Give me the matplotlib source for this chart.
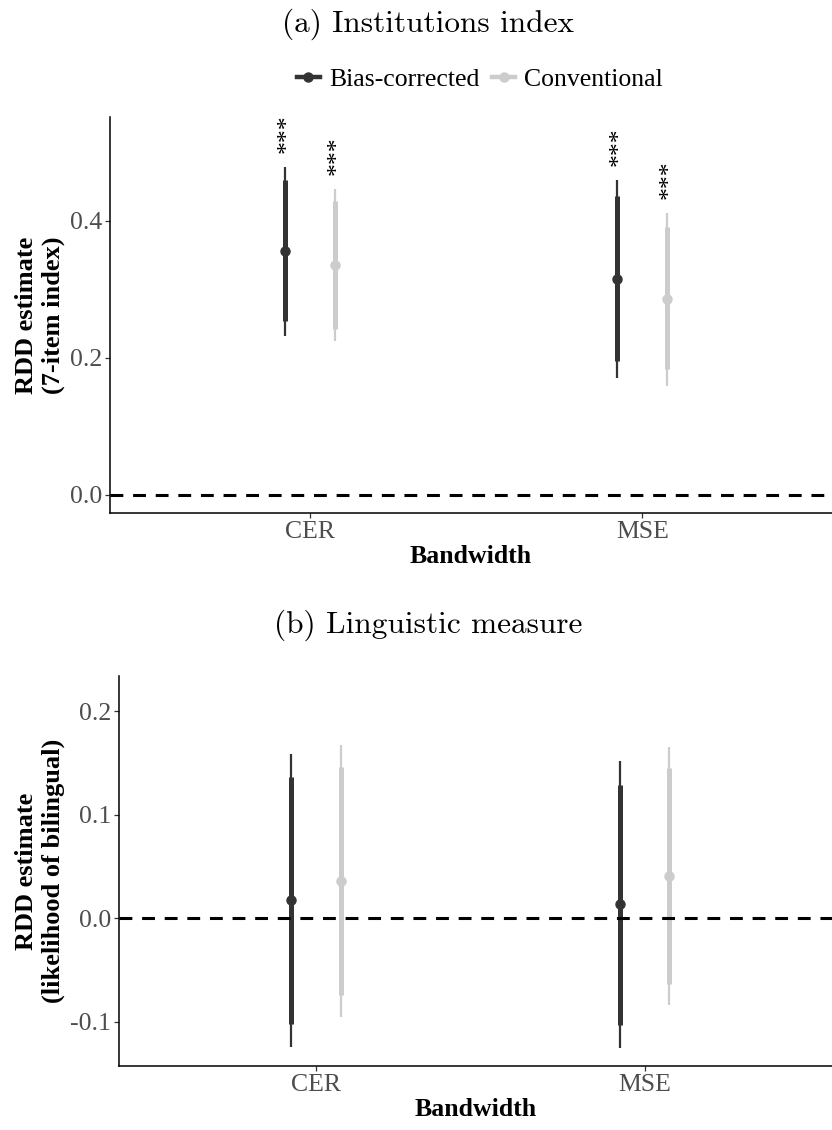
import numpy as np
import matplotlib
matplotlib.use('Agg')
import matplotlib.pyplot as plt
from matplotlib.lines import Line2D

plt.rcParams['axes.unicode_minus'] = False

## data
bandwidths = ['CER', 'MSE']
estimators = ['Bias-corrected', 'Conventional']
colors = ['#333333', '#cccccc']

# panel a: institutions index
a_est = {'Bias-corrected': [0.356, 0.315], 'Conventional': [0.336, 0.286]}
a_lo90 = {'Bias-corrected': [0.253, 0.195], 'Conventional': [0.242, 0.183]}
a_hi90 = {'Bias-corrected': [0.459, 0.436], 'Conventional': [0.429, 0.391]}
a_lo95 = {'Bias-corrected': [0.232, 0.171], 'Conventional': [0.225, 0.159]}
a_hi95 = {'Bias-corrected': [0.479, 0.459], 'Conventional': [0.447, 0.412]}
a_stars = {'Bias-corrected': ['***', '***'], 'Conventional': ['***', '***']}
a_yticks = [0.0, 0.2, 0.4]
a_yticklabels = ['0.0', '0.2', '0.4']

# panel b: linguistic measure
b_est = {'Bias-corrected': [0.0177, 0.0135], 'Conventional': [0.0363, 0.0408]}
b_lo90 = {'Bias-corrected': [-0.102, -0.103], 'Conventional': [-0.074, -0.0637]}
b_hi90 = {'Bias-corrected': [0.136, 0.129], 'Conventional': [0.1458, 0.1448]}
b_lo95 = {'Bias-corrected': [-0.1245, -0.1255], 'Conventional': [-0.095, -0.0837]}
b_hi95 = {'Bias-corrected': [0.159, 0.152], 'Conventional': [0.167, 0.165]}
b_stars = {'Bias-corrected': ['', ''], 'Conventional': ['', '']}
b_yticks = [-0.1, 0.0, 0.1, 0.2]
b_yticklabels = ['-0.1', '0.0', '0.1', '0.2']

serif = 'Liberation Serif'
title_font = 'cmr10'


def draw_panel(ax, est, lo90, hi90, lo95, hi95, stars, yticks, yticklabels, ylim, ylabel):
    x = np.arange(1, len(bandwidths) + 1)
    dodge = [-0.075, 0.075]
    for k, name in enumerate(estimators):
        xs = x + dodge[k]
        ax.vlines(xs, lo95[name], hi95[name], color=colors[k], lw=1.6, zorder=2)
        ax.vlines(xs, lo90[name], hi90[name], color=colors[k], lw=3.6, zorder=2)
        ax.plot(xs, est[name], 'o', color=colors[k], ms=6.5, zorder=3)
        for xi, yi, s in zip(xs, hi95[name], stars[name]):
            if s:
                # stars rotated like ggplot angle=90
                ax.annotate(s, (xi, yi), xytext=(2, 10), textcoords='offset points',
                            rotation=90, ha='center', va='bottom', fontsize=18.5,
                            family=serif, color='black')
    ax.axhline(0, color='black', lw=2.2, ls=(0, (4.2, 3.2)), zorder=4)

    ax.set_xlim(0.4, 2.57)
    ax.set_ylim(*ylim)
    ax.set_xticks(x)
    ax.set_xticklabels(bandwidths, family=serif, fontsize=18.5, color='#4d4d4d')
    ax.set_yticks(yticks)
    ax.set_yticklabels(yticklabels, family=serif, fontsize=18.5, color='#4d4d4d')
    ax.tick_params(length=3.5, width=0.9, color='#333333', pad=2)
    for s in ['top', 'right']:
        ax.spines[s].set_visible(False)
    for s in ['left', 'bottom']:
        ax.spines[s].set_linewidth(1.1)
    ax.set_xlabel('Bandwidth', family=serif, fontsize=18.5, fontweight='bold', labelpad=2)
    ax.set_ylabel(ylabel, family=serif, fontsize=19, fontweight='bold',
                  ha='center', va='center', multialignment='center', linespacing=1.2)


fig = plt.figure(figsize=(8.32, 11.3), dpi=100)

ax1 = fig.add_axes([0.1322, 0.546, 0.8678, 0.3504])
draw_panel(ax1, a_est, a_lo90, a_hi90, a_lo95, a_hi95, a_stars, a_yticks, a_yticklabels,
           (-0.0267, 0.5514), 'RDD estimate\n(7-item index)')
ax1.yaxis.set_label_coords(-0.0965, 0.5)

ax2 = fig.add_axes([0.143, 0.0566, 0.857, 0.3452])
draw_panel(ax2, b_est, b_lo90, b_hi90, b_lo95, b_hi95, b_stars, b_yticks, b_yticklabels,
           (-0.1426, 0.2339), 'RDD estimate\n(likelihood of bilingual)')
ax2.yaxis.set_label_coords(-0.1105, 0.5)

# titles
fig.text(428 / 832, 1 - 24 / 1130, '(a) Institutions index', family=title_font, fontsize=22.5,
         ha='center', va='center')
fig.text(428 / 832, 1 - 625 / 1130, '(b) Linguistic measure', family=title_font, fontsize=22.5,
         ha='center', va='center')

# legend
handles = [Line2D([0], [0], color=c, lw=3.2, marker='o', ms=6.5) for c in colors]
fig.legend(handles, estimators, loc='center', bbox_to_anchor=(480 / 832, 1 - 80 / 1130),
           ncol=2, frameon=False, handlelength=0.9, handletextpad=0.35, columnspacing=0.5,
           prop={'family': serif, 'size': 18.5})

fig.savefig('out.png', dpi=100)
